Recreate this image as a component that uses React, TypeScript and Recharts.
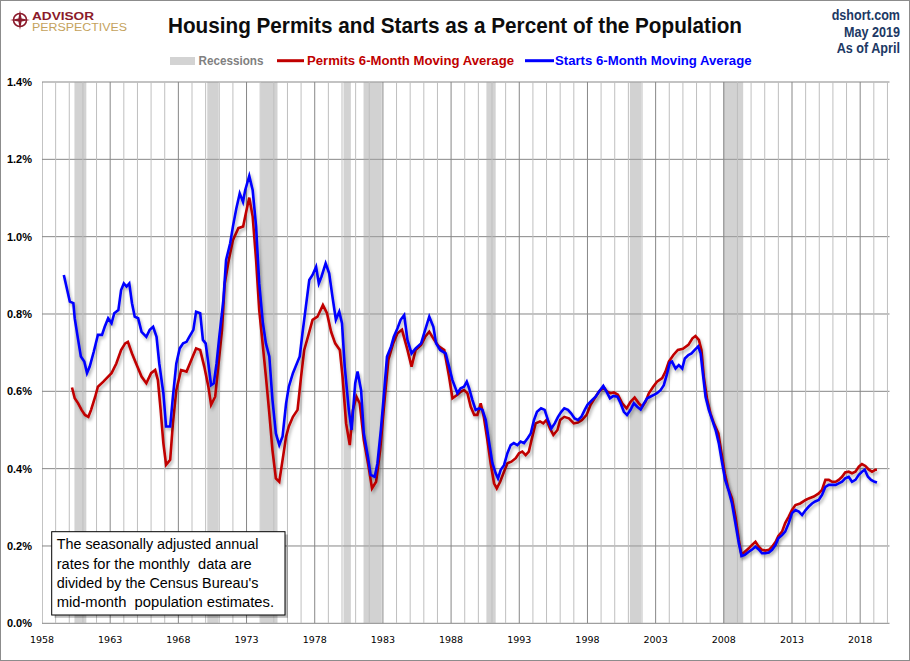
import React from "react";
import {
  ComposedChart,
  Line,
  XAxis,
  YAxis,
  CartesianGrid,
  ReferenceArea,
  ReferenceLine,
} from "recharts";

// Housing starts, 6-month moving average, % of population
const startsYears = [
  1959.6, 1960.04, 1960.3, 1960.4, 1960.65, 1960.85, 1961.1, 1961.3, 1961.5, 1961.8,
  1962.1, 1962.4, 1962.6, 1962.85, 1963.1, 1963.3, 1963.6, 1963.8, 1964.0, 1964.2,
  1964.4, 1964.6, 1964.8, 1965.05, 1965.3, 1965.65, 1965.9, 1966.15, 1966.4, 1966.6,
  1966.9, 1967.1, 1967.4, 1967.6, 1967.85, 1968.1, 1968.35, 1968.6, 1968.8, 1969.1,
  1969.3, 1969.6, 1969.8, 1970.0, 1970.2, 1970.4, 1970.6, 1970.8, 1971.0, 1971.3,
  1971.5, 1971.8, 1972.0, 1972.25, 1972.5, 1972.74, 1972.9, 1973.2, 1973.45, 1973.7,
  1973.93, 1974.2, 1974.42, 1974.67, 1974.9, 1975.15, 1975.4, 1975.64, 1975.9, 1976.1,
  1976.4, 1976.6, 1976.9, 1977.1, 1977.35, 1977.6, 1977.84, 1978.1, 1978.3, 1978.5,
  1978.8, 1979.06, 1979.3, 1979.55, 1979.8, 1980.0, 1980.2, 1980.5, 1980.7, 1980.97,
  1981.14, 1981.4, 1981.6, 1981.9, 1982.1, 1982.4, 1982.6, 1982.85, 1983.1, 1983.3,
  1983.6, 1983.8, 1984.07, 1984.3, 1984.56, 1984.8, 1985.1, 1985.4, 1985.8, 1986.1,
  1986.4, 1986.7, 1986.9, 1987.2, 1987.6, 1987.85, 1988.1, 1988.46, 1988.7, 1988.95,
  1989.15, 1989.32, 1989.56, 1989.8, 1990.05, 1990.3, 1990.54, 1990.8, 1991.03, 1991.27,
  1991.44, 1991.64, 1991.88, 1992.13, 1992.37, 1992.6, 1992.86, 1993.1, 1993.35, 1993.6,
  1993.84, 1994.08, 1994.3, 1994.6, 1994.86, 1995.1, 1995.35, 1995.6, 1995.84, 1996.08,
  1996.3, 1996.57, 1996.8, 1997.06, 1997.3, 1997.55, 1997.8, 1998.0, 1998.35, 1998.6,
  1998.84, 1999.16, 1999.4, 1999.65, 1999.9, 2000.2, 2000.43, 2000.67, 2000.9, 2001.16,
  2001.4, 2001.65, 2001.9, 2002.14, 2002.38, 2002.6, 2002.87, 2003.1, 2003.36, 2003.6,
  2003.85, 2004.04, 2004.2, 2004.46, 2004.7, 2004.95, 2005.14, 2005.4, 2005.63, 2005.87,
  2006.12, 2006.3, 2006.46, 2006.66, 2006.9, 2007.15, 2007.4, 2007.63, 2007.88, 2008.1,
  2008.37, 2008.6, 2008.85, 2009.1, 2009.3, 2009.54, 2009.83, 2010.07, 2010.32, 2010.56,
  2010.8, 2011.05, 2011.3, 2011.54, 2011.8, 2012.0, 2012.27, 2012.5, 2012.76, 2013.0,
  2013.25, 2013.5, 2013.74, 2014.0, 2014.23, 2014.47, 2014.7, 2014.96, 2015.2, 2015.45,
  2015.7, 2015.94, 2016.2, 2016.42, 2016.67, 2016.9, 2017.16, 2017.4, 2017.65, 2017.9,
  2018.13, 2018.33, 2018.57, 2018.8, 2019.06, 2019.23,
];
const startsValues = [
  0.901, 0.832, 0.828, 0.789, 0.733, 0.69, 0.677, 0.647, 0.664, 0.703,
  0.746, 0.746, 0.767, 0.789, 0.776, 0.802, 0.81, 0.862, 0.879, 0.871,
  0.879, 0.828, 0.793, 0.789, 0.754, 0.741, 0.759, 0.767, 0.741, 0.672,
  0.595, 0.509, 0.509, 0.586, 0.672, 0.711, 0.724, 0.728, 0.741, 0.759,
  0.806, 0.802, 0.733, 0.724, 0.672, 0.616, 0.621, 0.672, 0.741, 0.836,
  0.94, 0.983, 1.026, 1.073, 1.112, 1.09, 1.12, 1.157, 1.12, 1.026,
  0.879, 0.776, 0.724, 0.69, 0.578, 0.491, 0.461, 0.483, 0.569, 0.612,
  0.647, 0.664, 0.69, 0.75, 0.819, 0.888, 0.901, 0.922, 0.879, 0.897,
  0.931, 0.905, 0.845, 0.785, 0.806, 0.776, 0.664, 0.552, 0.5, 0.621,
  0.651, 0.603, 0.491, 0.431, 0.384, 0.379, 0.414, 0.5, 0.603, 0.69,
  0.716, 0.741, 0.763, 0.785, 0.797, 0.733, 0.698, 0.711, 0.724, 0.759,
  0.793, 0.767, 0.724, 0.707, 0.698, 0.664, 0.629, 0.595, 0.608, 0.612,
  0.625, 0.608, 0.578, 0.552, 0.556, 0.552, 0.526, 0.466, 0.414, 0.388,
  0.375, 0.397, 0.409, 0.44, 0.461, 0.466, 0.461, 0.47, 0.466, 0.478,
  0.491, 0.526, 0.547, 0.556, 0.552, 0.526, 0.504, 0.517, 0.534, 0.547,
  0.556, 0.552, 0.543, 0.53, 0.526, 0.534, 0.552, 0.565, 0.578, 0.586,
  0.599, 0.614, 0.599, 0.582, 0.588, 0.586, 0.569, 0.547, 0.539, 0.552,
  0.569, 0.56, 0.553, 0.569, 0.582, 0.586, 0.591, 0.595, 0.603, 0.616,
  0.647, 0.674, 0.677, 0.659, 0.668, 0.659, 0.685, 0.694, 0.698, 0.707,
  0.716, 0.698, 0.647, 0.586, 0.552, 0.526, 0.5, 0.466, 0.414, 0.371,
  0.341, 0.31, 0.259, 0.207, 0.174, 0.177, 0.185, 0.191, 0.198, 0.191,
  0.181, 0.181, 0.183, 0.19, 0.203, 0.22, 0.228, 0.237, 0.259, 0.285,
  0.293, 0.289, 0.28, 0.293, 0.302, 0.31, 0.315, 0.319, 0.332, 0.353,
  0.358, 0.358, 0.358, 0.362, 0.366, 0.375, 0.379, 0.366, 0.371, 0.384,
  0.392, 0.397, 0.379, 0.371, 0.366, 0.364,
];

// Housing permits, 6-month moving average, % of population
const permitsYears = [
  1960.2, 1960.4, 1960.65, 1960.9, 1961.15, 1961.4, 1961.6, 1961.9, 1962.1, 1962.5,
  1962.85, 1963.1, 1963.45, 1963.8, 1964.1, 1964.3, 1964.6, 1964.9, 1965.3, 1965.65,
  1966.0, 1966.3, 1966.5, 1966.7, 1966.9, 1967.1, 1967.4, 1967.6, 1967.85, 1968.2,
  1968.6, 1968.95, 1969.3, 1969.6, 1969.9, 1970.2, 1970.4, 1970.7, 1970.9, 1971.2,
  1971.4, 1971.7, 1972.0, 1972.4, 1972.75, 1973.0, 1973.2, 1973.45, 1973.7, 1973.93,
  1974.2, 1974.42, 1974.67, 1974.9, 1975.15, 1975.4, 1975.64, 1975.9, 1976.1, 1976.4,
  1976.74, 1977.0, 1977.23, 1977.5, 1977.84, 1978.2, 1978.6, 1978.9, 1979.2, 1979.5,
  1979.84, 1980.04, 1980.3, 1980.57, 1980.8, 1981.06, 1981.3, 1981.6, 1981.95, 1982.2,
  1982.5, 1982.8, 1983.1, 1983.4, 1983.75, 1984.07, 1984.4, 1984.8, 1985.1, 1985.4,
  1985.8, 1986.1, 1986.4, 1986.76, 1987.1, 1987.5, 1987.85, 1988.1, 1988.46, 1988.7,
  1988.95, 1989.2, 1989.44, 1989.7, 1989.93, 1990.17, 1990.4, 1990.66, 1990.9, 1991.15,
  1991.35, 1991.6, 1991.88, 1992.13, 1992.42, 1992.74, 1992.98, 1993.22, 1993.47, 1993.7,
  1993.96, 1994.2, 1994.52, 1994.76, 1995.0, 1995.25, 1995.5, 1995.8, 1996.0, 1996.3,
  1996.64, 1997.0, 1997.3, 1997.6, 1997.94, 1998.23, 1998.6, 1998.84, 1999.2, 1999.45,
  1999.7, 1999.94, 2000.23, 2000.55, 2000.87, 2001.16, 2001.46, 2001.77, 2002.02, 2002.26,
  2002.5, 2002.82, 2003.1, 2003.48, 2003.72, 2003.97, 2004.3, 2004.63, 2005.0, 2005.4,
  2005.7, 2005.92, 2006.17, 2006.36, 2006.53, 2006.78, 2007.02, 2007.27, 2007.6, 2007.83,
  2008.07, 2008.32, 2008.6, 2008.85, 2009.1, 2009.3, 2009.54, 2009.83, 2010.07, 2010.32,
  2010.56, 2010.8, 2011.05, 2011.3, 2011.54, 2011.8, 2012.0, 2012.27, 2012.5, 2012.76,
  2013.0, 2013.25, 2013.6, 2014.0, 2014.23, 2014.6, 2014.96, 2015.2, 2015.45, 2015.7,
  2015.94, 2016.2, 2016.42, 2016.67, 2016.9, 2017.16, 2017.4, 2017.65, 2017.9, 2018.13,
  2018.38, 2018.62, 2018.87, 2019.1, 2019.23,
];
const permitsValues = [
  0.61, 0.582, 0.569, 0.552, 0.539, 0.534, 0.552, 0.586, 0.612, 0.625,
  0.638, 0.647, 0.672, 0.707, 0.724, 0.728, 0.698, 0.672, 0.638, 0.621,
  0.647, 0.655, 0.629, 0.552, 0.466, 0.41, 0.423, 0.517, 0.603, 0.655,
  0.651, 0.681, 0.711, 0.707, 0.664, 0.612, 0.565, 0.586, 0.655, 0.759,
  0.879, 0.94, 0.991, 1.022, 1.026, 1.069, 1.101, 1.052, 0.94, 0.81,
  0.716, 0.638, 0.543, 0.448, 0.375, 0.366, 0.422, 0.483, 0.509, 0.534,
  0.552, 0.638, 0.707, 0.741, 0.785, 0.793, 0.823, 0.802, 0.754, 0.724,
  0.707, 0.638, 0.517, 0.461, 0.552, 0.586, 0.569, 0.474, 0.405, 0.349,
  0.366, 0.448, 0.569, 0.681, 0.724, 0.75, 0.759, 0.707, 0.664, 0.707,
  0.72, 0.741, 0.754, 0.733, 0.716, 0.707, 0.638, 0.582, 0.591, 0.599,
  0.603, 0.595, 0.56, 0.539, 0.539, 0.569, 0.534, 0.474, 0.414, 0.362,
  0.349, 0.366, 0.392, 0.414, 0.418, 0.427, 0.44, 0.444, 0.435, 0.444,
  0.483, 0.517, 0.522, 0.517, 0.526, 0.504, 0.487, 0.5, 0.526, 0.534,
  0.53, 0.517, 0.519, 0.526, 0.539, 0.565, 0.586, 0.599, 0.61, 0.599,
  0.595, 0.597, 0.591, 0.569, 0.556, 0.573, 0.584, 0.569, 0.56, 0.573,
  0.595, 0.612, 0.625, 0.634, 0.651, 0.677, 0.694, 0.707, 0.71, 0.72,
  0.737, 0.743, 0.733, 0.707, 0.638, 0.578, 0.543, 0.517, 0.491, 0.44,
  0.388, 0.349, 0.323, 0.276, 0.216, 0.177, 0.185, 0.194, 0.203, 0.211,
  0.198, 0.19, 0.188, 0.19, 0.198, 0.211, 0.226, 0.237, 0.259, 0.276,
  0.293, 0.306, 0.31, 0.319, 0.323, 0.328, 0.336, 0.345, 0.371, 0.371,
  0.366, 0.366, 0.371, 0.379, 0.39, 0.392, 0.388, 0.392, 0.405, 0.412,
  0.407, 0.398, 0.392, 0.397, 0.397,
];

// Recession bands as shaded in the chart
const recessionStarts = [1960.38, 1970.12, 1974.06, 1980.11, 1981.58, 1990.59, 2001.11, 2007.95];
const recessionEnds = [1961.25, 1970.95, 1975.27, 1980.65, 1982.92, 1991.27, 2001.94, 2009.42];

const yTicks = [0, 0.2, 0.4, 0.6, 0.8, 1.0, 1.2, 1.4];
const xTicks = [1958, 1963, 1968, 1973, 1978, 1983, 1988, 1993, 1998, 2003, 2008, 2013, 2018];
const gridYears = Array.from({ length: 63 }, (_, i) => 1958 + i);

const noteLines = [
  "The seasonally adjusted annual",
  "rates for the monthly  data are",
  "divided by the Census Bureau's",
  "mid-month  population estimates.",
];
const noteWidths = [201.7, 195, 201.7, 217.3];

const startsData = startsYears.map((t, i) => ({ t, v: startsValues[i] }));
const permitsData = permitsYears.map((t, i) => ({ t, v: permitsValues[i] }));

const RED = "#C00000";
const BLUE = "#0000FF";
const NAVY = "#203864";
const SANS = "'Liberation Sans', Arial, sans-serif";

function Overlay() {
  const fit = { lengthAdjust: "spacingAndGlyphs" as const };
  return (
    <svg
      width={910}
      height={661}
      style={{ position: "absolute", left: 0, top: 0, pointerEvents: "none" }}
      fontFamily={SANS}
    >
      <defs>
        <filter id="lineShadow" x="-5%" y="-5%" width="110%" height="120%">
          <feDropShadow dx="1.5" dy="2.5" stdDeviation="1.4" floodColor="#000" floodOpacity="0.3" />
        </filter>
      </defs>
      <rect x={0.5} y={0.5} width={909} height={660} fill="none" stroke="#8c8c8c" />

      {/* logo */}
      <circle cx={20} cy={20} r={6.5} fill="none" stroke="#8B1A2B" strokeWidth={1.6} />
      <polygon
        points="20,10 21.6,18.4 30,20 21.6,21.6 20,30 18.4,21.6 10,20 18.4,18.4"
        fill="#8B1A2B"
      />
      <text x={32} y={19.8} fontSize={11} fontWeight="bold" fill="#8B1A2B" textLength={62} {...fit}>
        ADVISOR
      </text>
      <text x={32} y={31} fontSize={10} fill="#C4A25C" textLength={95} {...fit}>
        PERSPECTIVES
      </text>

      {/* title */}
      <text x={168} y={32.5} fontSize={22} fontWeight="bold" fill="#0d0d0d" textLength={574} {...fit}>
        Housing Permits and Starts as a Percent of the Population
      </text>

      {/* source block */}
      <text x={831.7} y={20} fontSize={14} fontWeight="bold" fill={NAVY} textLength={68.3} {...fit}>
        dshort.com
      </text>
      <text x={844} y={36.7} fontSize={14} fontWeight="bold" fill={NAVY} textLength={56} {...fit}>
        May 2019
      </text>
      <text x={836.7} y={53.3} fontSize={14} fontWeight="bold" fill={NAVY} textLength={63.3} {...fit}>
        As of April
      </text>

      {/* legend */}
      <rect x={170} y={57} width={25} height={8} fill="#D3D3D3" />
      <text x={198.5} y={65} fontSize={13} fontWeight="bold" fill="#808080" textLength={65} {...fit}>
        Recessions
      </text>
      <line x1={277} x2={304} y1={60.7} y2={60.7} stroke={RED} strokeWidth={3} />
      <text x={307} y={65} fontSize={13} fontWeight="bold" fill={RED} textLength={207} {...fit}>
        Permits 6-Month Moving Average
      </text>
      <line x1={525} x2={554} y1={60.7} y2={60.7} stroke={BLUE} strokeWidth={3} />
      <text x={555} y={65} fontSize={13} fontWeight="bold" fill={BLUE} textLength={196.5} {...fit}>
        Starts 6-Month Moving Average
      </text>

      {/* note box */}
      <rect x={54.5} y={534.5} width={233.3} height={83.3} fill="#000" opacity={0.25} />
      <rect x={51.7} y={531.7} width={233.3} height={83.3} fill="#fff" stroke="#000" />
      {noteLines.map((line, i) => (
        <text
          key={i}
          x={56.7}
          y={549.3 + i * 19.33}
          fontSize={15.5}
          fill="#000"
          textLength={noteWidths[i]}
          style={{ whiteSpace: "pre" }}
          {...fit}
        >
          {line}
        </text>
      ))}
    </svg>
  );
}

export default function App() {
  return (
    <div
      style={{
        position: "absolute",
        left: 0,
        top: 0,
        width: 910,
        height: 661,
        background: "#fff",
        overflow: "hidden",
      }}
    >
      <style>{`.recharts-line-curve { filter: url(#lineShadow); }`}</style>
      <ComposedChart
        width={910}
        height={661}
        margin={{ top: 82, right: 20.5, bottom: 7.7, left: 0 }}
      >
        {recessionStarts.map((s, i) => (
          <ReferenceArea
            key={`r${i}`}
            x1={s}
            x2={recessionEnds[i]}
            y1={0}
            y2={1.4}
            fill="#A6A6A6"
            fillOpacity={0.5}
            stroke="none"
            ifOverflow="hidden"
            zIndex={-90}
          />
        ))}
        {gridYears.map((yr) => (
          <ReferenceLine
            key={`g${yr}`}
            x={yr}
            stroke={(yr - 1958) % 5 === 0 ? "#878787" : "#BFBFBF"}
            strokeWidth={1}
            ifOverflow="hidden"
            zIndex={-80}
          />
        ))}
        <CartesianGrid vertical={false} stroke="#878787" strokeWidth={1} />
        <XAxis
          type="number"
          dataKey="t"
          domain={[1958, 2020.15]}
          ticks={xTicks}
          allowDataOverflow
          axisLine={false}
          tickLine={false}
          tickSize={6}
          tickMargin={7}
          height={30}
          tick={{ fontSize: 9.5, fill: "#000", fontFamily: "'DejaVu Sans', sans-serif" }}
        />
        <YAxis
          type="number"
          domain={[0, 1.4]}
          ticks={yTicks}
          width={42}
          axisLine={false}
          tickLine={false}
          tickSize={6}
          tickMargin={4}
          tickFormatter={(v: number) => `${v.toFixed(1)}%`}
          tick={{ fontSize: 11, fontWeight: "bold", fill: "#000", fontFamily: SANS }}
        />
        <Line
          data={permitsData}
          dataKey="v"
          type="linear"
          stroke={RED}
          strokeWidth={2.6}
          dot={false}
          activeDot={false}
          isAnimationActive={false}
        />
        <Line
          data={startsData}
          dataKey="v"
          type="linear"
          stroke={BLUE}
          strokeWidth={2.6}
          dot={false}
          activeDot={false}
          isAnimationActive={false}
        />
      </ComposedChart>
      <Overlay />
    </div>
  );
}
